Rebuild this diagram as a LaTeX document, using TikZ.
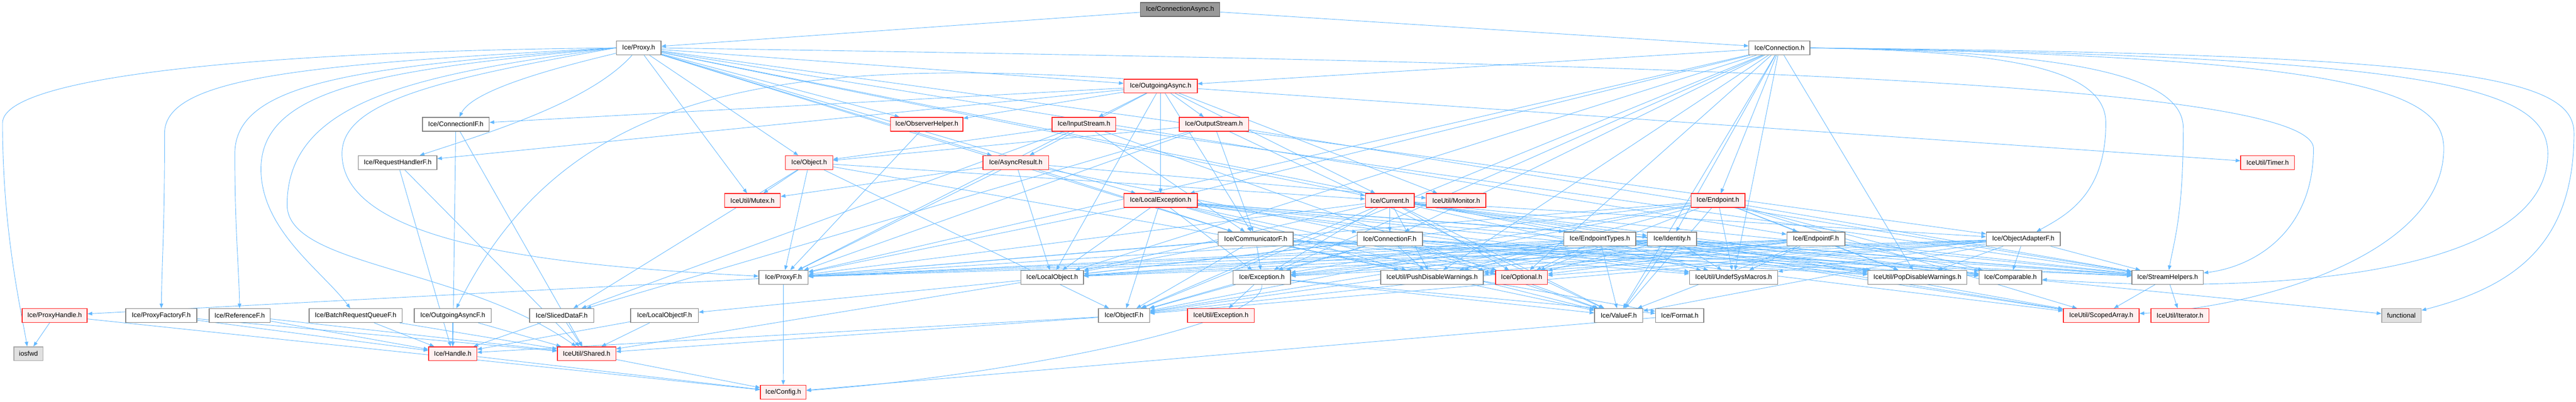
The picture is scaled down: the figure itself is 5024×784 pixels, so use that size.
\documentclass[tikz,border=0pt]{standalone}
\usepackage{fontspec}
\setmainfont{Liberation Sans}
\usetikzlibrary{arrows.meta,backgrounds}
\definecolor{edgec}{HTML}{63B8FF}
\definecolor{boxg}{HTML}{808080}
\definecolor{redfill}{HTML}{FFF0F0}
\definecolor{redline}{HTML}{FF2020}
\definecolor{rootfill}{HTML}{999999}
\definecolor{sysfill}{HTML}{E0E0E0}
\tikzset{
  hbox/.style={draw=boxg, fill=white, line width=1.5pt, minimum height=27pt, inner sep=0pt, font=\fontsize{13}{15}\selectfont},
  hred/.style={hbox, draw=redline, fill=redfill},
  hroot/.style={hbox, fill=rootfill, draw=boxg!80!black},
  hsys/.style={hbox, fill=sysfill, draw=boxg!70},
  edgeline/.style={draw=edgec, line width=0.9pt, -{Triangle[length=9pt,width=7pt]}},
}
\newcommand{\hn}[6]{\node[#2,minimum width={(#4-#3)*1pt}] (#1) at ({(#3+#4)/2},#5) {#6};}
\begin{document}
\begin{tikzpicture}[x=1pt,y=-1pt]
\useasboundingbox (0,0) rectangle (5024,784);
% rank 0
\hn{CA}{hroot}{2224}{2379}{18.5}{Ice/ConnectionAsync.h}
% rank 1
\hn{Proxy}{hbox}{1202}{1289}{93.5}{Ice/Proxy.h}
\hn{Conn}{hbox}{3411}{3530}{93.5}{Ice/Connection.h}
% rank 2
\hn{OA}{hred}{2192}{2335}{168}{Ice/OutgoingAsync.h}
% rank 3
\hn{CIF}{hbox}{824}{954}{242.5}{Ice/ConnectionIF.h}
\hn{OH}{hred}{1737}{1878}{242.5}{Ice/ObserverHelper.h}
\hn{IS}{hred}{2052}{2176}{242.5}{Ice/InputStream.h}
\hn{OS}{hred}{2300}{2435}{242.5}{Ice/OutputStream.h}
% rank 4
\hn{RHF}{hbox}{699}{852}{317.5}{Ice/RequestHandlerF.h}
\hn{Obj}{hred}{1532}{1624}{317.5}{Ice/Object.h}
\hn{AR}{hred}{1917}{2045}{317.5}{Ice/AsyncResult.h}
\hn{Timer}{hred}{4370}{4475}{317.5}{IceUtil/Timer.h}
% rank 5
\hn{Mutex}{hred}{1413}{1522}{391.5}{IceUtil/Mutex.h}
\hn{LE}{hred}{2192}{2335}{391.5}{Ice/LocalException.h}
\hn{Cur}{hred}{2663}{2758}{391.5}{Ice/Current.h}
\hn{Mon}{hred}{2782}{2898}{391.5}{IceUtil/Monitor.h}
\hn{Ep}{hred}{3298}{3403}{391.5}{Ice/Endpoint.h}
% rank 6
\hn{CF}{hbox}{2376}{2522}{466.5}{Ice/CommunicatorF.h}
\hn{CnF}{hbox}{2647}{2774}{466.5}{Ice/ConnectionF.h}
\hn{ET}{hbox}{3050}{3190}{466.5}{Ice/EndpointTypes.h}
\hn{Id}{hbox}{3213}{3309}{466.5}{Ice/Identity.h}
\hn{EF}{hbox}{3485}{3598}{466.5}{Ice/EndpointF.h}
\hn{OAF}{hbox}{3874}{4018}{466.5}{Ice/ObjectAdapterF.h}
% rank 7
\hn{PF}{hbox}{1480}{1576}{541.5}{Ice/ProxyF.h}
\hn{LO}{hbox}{1991}{2113}{541.5}{Ice/LocalObject.h}
\hn{Exc}{hbox}{2405}{2517}{541.5}{Ice/Exception.h}
\hn{Push}{hbox}{2693}{2893}{541.5}{IceUtil/PushDisableWarnings.h}
\hn{Opt}{hred}{2917}{3018}{541.5}{Ice/Optional.h}
\hn{Undef}{hbox}{3295}{3467}{541.5}{IceUtil/UndefSysMacros.h}
\hn{Pop}{hbox}{3643}{3836}{541.5}{IceUtil/PopDisableWarnings.h}
\hn{Cmp}{hbox}{3860}{3982}{541.5}{Ice/Comparable.h}
\hn{SH}{hbox}{4158}{4297}{541.5}{Ice/StreamHelpers.h}
% rank 8
\hn{PH}{hred}{43}{170}{616}{Ice/ProxyHandle.h}
\hn{PFF}{hbox}{245}{384}{616}{Ice/ProxyFactoryF.h}
\hn{RF}{hbox}{408}{527}{616}{Ice/ReferenceF.h}
\hn{BRQ}{hbox}{603}{784}{616}{Ice/BatchRequestQueueF.h}
\hn{OAsF}{hbox}{808}{958}{616}{Ice/OutgoingAsyncF.h}
\hn{SDF}{hbox}{1033}{1158}{616}{Ice/SlicedDataF.h}
\hn{LOF}{hbox}{1230}{1362}{616}{Ice/LocalObjectF.h}
\hn{OF}{hbox}{2142}{2242}{616}{Ice/ObjectF.h}
\hn{UE}{hred}{2316}{2446}{616}{IceUtil/Exception.h}
\hn{VF}{hbox}{3110}{3204}{616}{Ice/ValueF.h}
\hn{Fmt}{hbox}{3229}{3323}{616}{Ice/Format.h}
\hn{SA}{hred}{4024}{4172}{616}{IceUtil/ScopedArray.h}
\hn{It}{hred}{4195}{4308}{616}{IceUtil/Iterator.h}
\hn{Fn}{hsys}{4645}{4722}{616}{functional}
% rank 9
\hn{ios}{hsys}{27}{84}{690.5}{iosfwd}
\hn{Hdl}{hred}{836}{930}{690.5}{Ice/Handle.h}
\hn{Sh}{hred}{1087}{1201}{690.5}{IceUtil/Shared.h}
% rank 10
\hn{Cfg}{hred}{1483}{1572}{765.5}{Ice/Config.h}

\begin{pgfonlayer}{background}
% root
\draw[edgeline] (CA) -- (Proxy);
\draw[edgeline] (CA) -- (Conn);
% Proxy.h
\draw[edgeline] (Proxy.west) .. controls (500,100) and (5,150) .. (5,240) .. controls (5,450) and (40,600) .. (ios);
\draw[edgeline] (Proxy.west) .. controls (600,125) and (321,150) .. (321,260) .. controls (321,450) and (316,500) .. (PFF);
\draw[edgeline] (Proxy.west) .. controls (700,130) and (458,160) .. (458,300) .. controls (458,450) and (466,520) .. (RF);
\draw[edgeline] (Proxy.west) .. controls (750,135) and (509,170) .. (509,330) .. controls (509,450) and (630,530) .. (BRQ);
\draw[edgeline] (Proxy.west) .. controls (800,145) and (560,200) .. (560,400) .. controls (560,520) and (900,520) .. (Sh);
\draw[edgeline] (Proxy.west) .. controls (850,155) and (667,200) .. (667,300) .. controls (667,480) and (1100,520) .. (PF);
\draw[edgeline] (Proxy) .. controls (1050,140) and (920,180) .. (CIF);
\draw[edgeline] (Proxy) .. controls (1150,200) and (950,260) .. (RHF);
\foreach \t in {Mutex,Obj,AR,OA,OH,EF,ET,OAF,Cur,CF,LE} \draw[edgeline] (Proxy) -- (\t);
\draw[edgeline] (Proxy.east) .. controls (3000,120) and (4512,150) .. (4512,290) .. controls (4512,450) and (4400,520) .. (SH);
% Connection.h
\foreach \t in {Push,PF,OF,VF,Exc,LO,Opt,Id,Ep,Undef,Pop,OA,LE,CnF} \draw[edgeline] (Conn) -- (\t);
\draw[edgeline] (Conn.east) .. controls (3900,100) and (4107,130) .. (4107,240) .. controls (4107,380) and (4030,420) .. (OAF);
\draw[edgeline] (Conn.east) .. controls (4050,100) and (4258,150) .. (4258,250) .. controls (4258,420) and (4240,470) .. (SH);
\draw[edgeline] (Conn.east) .. controls (4600,110) and (4766,180) .. (4766,290) .. controls (4766,500) and (4400,600) .. (SA);
\draw[edgeline] (Conn.east) .. controls (4750,110) and (4969,170) .. (4969,300) .. controls (4969,520) and (4500,580) .. (Cmp);
\draw[edgeline] (Conn.east) .. controls (4800,105) and (5020,150) .. (5020,260) .. controls (5020,480) and (4900,560) .. (Fn);
% OutgoingAsync.h
\foreach \t in {Timer,Mon,CIF,RHF,OH,IS,OS,LE,AR,CF,Cur,LO} \draw[edgeline] (OA) -- (\t);
\draw[edgeline] (OA.north west) .. controls (1500,110) and (1100,180) .. (OAsF);
% ObserverHelper.h
\draw[edgeline] (OH) -- (PF);
% streams
\foreach \t in {CF,Obj,VF,PF,SDF,SH} \draw[edgeline] (IS) -- (\t);
\foreach \t in {CF,Obj,VF,PF,SDF,SH} \draw[edgeline] (OS) -- (\t);
% Object.h
\foreach \t in {Mutex,OF,PF,Cur,Fmt,SDF} \draw[edgeline] (Obj) -- (\t);
% AsyncResult.h
\foreach \t in {Mon,Mutex,LO,CF,CnF,PF} \draw[edgeline] (AR) -- (\t);
% F headers with handles
\foreach \s in {RHF,CIF,PFF,RF,BRQ,OAsF,SDF,LOF,OF} {
  \draw[edgeline] (\s) -- (Hdl);
  \draw[edgeline] (\s) -- (Sh);
}
% LocalException.h
\foreach \t in {Push,PF,OF,VF,Exc,LO,SH,Cmp,SA,Opt,Id,Undef,Pop} \draw[edgeline] (LE) -- (\t);
% Current.h
\foreach \t in {Push,PF,OF,VF,Exc,LO,SH,Cmp,SA,Opt,OAF,CnF,Id,Undef,Pop} \draw[edgeline] (Cur) -- (\t);
% Endpoint.h
\foreach \t in {Push,PF,OF,VF,Exc,LO,SH,Cmp,SA,Opt,EF,Undef,Pop} \draw[edgeline] (Ep) -- (\t);
% generated local F headers
\foreach \s in {CF,CnF,EF,OAF} {
  \foreach \t in {Push,PF,OF,VF,Exc,LO,SH,Cmp,Opt,Undef,Pop} \draw[edgeline] (\s) -- (\t);
}
\foreach \s in {ET,Id} {
  \foreach \t in {Push,PF,OF,VF,Exc,LO,SH,Cmp,SA,Opt,Undef,Pop} \draw[edgeline] (\s) -- (\t);
}
% Exception.h
\foreach \t in {UE,Fmt,OF,VF} \draw[edgeline] (Exc) -- (\t);
\draw[edgeline] (Exc.south) .. controls (2470,640) and (1900,740) .. (Cfg);
% others
\draw[edgeline] (LO) -- (LOF);
\draw[edgeline] (LO) -- (Sh);
\draw[edgeline] (PF) -- (PH);
\draw[edgeline] (PF) -- (Cfg);
\draw[edgeline] (Cmp) -- (Fn);
\draw[edgeline] (SH) -- (SA);
\draw[edgeline] (SH) -- (It);
\draw[edgeline] (PH) -- (ios);
\draw[edgeline] (PH) -- (Cfg);
\draw[edgeline] (Fmt) -- (Cfg);
\draw[edgeline] (Hdl) -- (Cfg);
\draw[edgeline] (Sh) -- (Cfg);
\end{pgfonlayer}
\end{tikzpicture}
\end{document}
